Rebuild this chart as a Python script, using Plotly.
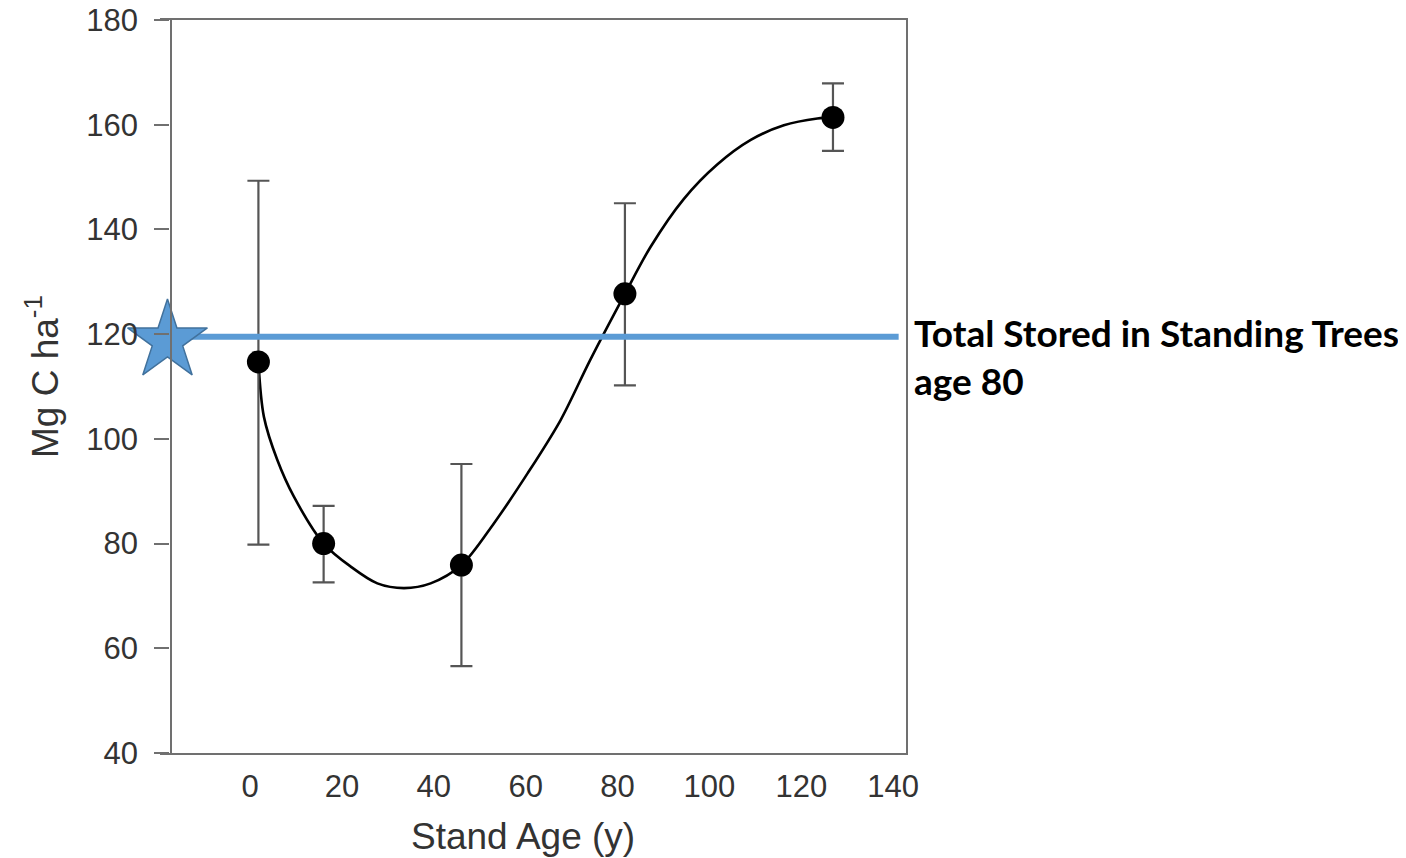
import plotly.graph_objects as go

# Measured points (stand age, Mg C/ha) with error bar ends
age = [1.8, 16.0, 46.0, 81.6, 126.9]
carbon = [114.7, 80.0, 75.9, 127.7, 161.4]
err_hi = [149.3, 87.2, 95.2, 145.0, 167.9]
err_lo = [79.8, 72.6, 56.6, 110.2, 155.0]

# Fitted curve
curve_x = [1.8, 3.0, 5.9, 9.5, 16.0, 21.9, 27.7, 33.5, 39.3, 46.0, 53.1, 60.4,
           67.6, 74.0, 81.6, 87.2, 94.4, 101.7, 109.0, 116.2, 123.5, 126.9]
curve_y = [114.7, 104.2, 96.0, 89.0, 80.0, 75.6, 72.4, 71.5, 72.4, 75.9, 83.9, 93.4,
           103.6, 115.0, 127.7, 136.7, 145.8, 152.4, 157.1, 159.9, 161.2, 161.4]

# Reference line (total stored in standing trees at age 80)
ref_value = 119.5
ref_x = [-18.0, 141.2]
star_x = [-18.0]
star_y = [118.7]

x_ticks = [0, 20, 40, 60, 80, 100, 120, 140]
y_ticks = [40, 60, 80, 100, 120, 140, 160, 180]

gray_text = "#333333"
axis_col = "#707070"

# page offset of the figure inside the browser (default body margin)
OFF = 8
# plot-area geometry in screen pixels
L, R, T, B = 160, 906, 20, 753
W, H = 1406, 858
x_max = 142.8
px_per_unit = (892.5 - 249.5) / 140.0
x_min = x_max - (R - L) / px_per_unit
yaxis_pos = (170.5 - L) / (R - L)


def px_to_paper_x(px):
    return (px - L) / (R - L)


def px_to_paper_y(py):
    return (B - py) / (B - T)


fig = go.Figure()

fig.add_trace(go.Scatter(
    x=curve_x, y=curve_y, mode="lines", line=dict(color="black", width=2.6, shape="spline", smoothing=0.9),
    hoverinfo="skip", showlegend=False))

fig.add_trace(go.Scatter(
    x=age, y=carbon, mode="markers",
    marker=dict(color="black", size=23),
    error_y=dict(type="data", symmetric=False,
                 array=[h - c for h, c in zip(err_hi, carbon)],
                 arrayminus=[c - l for c, l in zip(carbon, err_lo)],
                 color="#555555", thickness=2.2, width=11),
    showlegend=False))

fig.add_trace(go.Scatter(
    x=ref_x, y=[ref_value, ref_value], mode="lines",
    line=dict(color="#5b9bd5", width=6), showlegend=False))

fig.add_trace(go.Scatter(
    x=star_x, y=star_y, mode="markers",
    marker=dict(symbol="star", size=60, color="#5b9bd5", line=dict(color="#41719c", width=1.5)),
    cliponaxis=False, showlegend=False))

# empty trace on the right-side axis to draw the right frame line
fig.add_trace(go.Scatter(x=[], y=[], yaxis="y2", showlegend=False))

fig.update_layout(
    width=W, height=H,
    margin=dict(l=L - OFF, r=W - R + OFF, t=T - OFF, b=H - B + OFF),
    plot_bgcolor="white", paper_bgcolor="white",
    font=dict(family="Liberation Sans, Arial, sans-serif", color=gray_text),
    annotations=[
        dict(text="Stand Age (y)", xref="paper", yref="paper", x=px_to_paper_x(523), y=-0.083,
             xanchor="center", yanchor="top", showarrow=False,
             font=dict(size=37, color=gray_text)),
        dict(text="Mg C ha<sup>-1</sup>", xref="paper", x=px_to_paper_x(42), yref="paper",
             y=px_to_paper_y(377), xanchor="center", yanchor="middle", textangle=-90, showarrow=False,
             font=dict(size=37, color=gray_text)),
        dict(text="<b>Total Stored in Standing Trees<br>age 80</b>", xref="paper", yref="y",
             x=px_to_paper_x(912), y=115.7, xanchor="left", yanchor="middle", align="left",
             showarrow=False, font=dict(family="Lato, Carlito, sans-serif", size=37, color="black")),
    ],
    yaxis2=dict(overlaying="y", side="right", anchor="x", range=[40, 180], showline=True,
                linecolor=axis_col, linewidth=2.4, showticklabels=False, ticks="", showgrid=False,
                zeroline=False, automargin=False),
)

fig.update_xaxes(range=[x_min, x_max], tickvals=x_ticks, ticks="outside", ticklen=5,
                 tickcolor="rgba(0,0,0,0)", tickfont=dict(size=31, color=gray_text),
                 ticklabeloverflow="allow",
                 showline=True, linecolor=axis_col, linewidth=2.4, mirror=True,
                 showgrid=False, zeroline=False, automargin=False)
fig.layout.yaxis.update(range=[40, 180], tickvals=y_ticks, ticks="outside", ticklen=15, tickwidth=2.4,
                        tickcolor=axis_col, tickfont=dict(size=31, color=gray_text),
                        ticklabelstandoff=10, ticklabeloverflow="allow",
                        anchor="free", position=yaxis_pos,
                        showline=True, linecolor=axis_col, linewidth=2.4,
                        showgrid=False, zeroline=False, automargin=False)

fig.write_html("out.html")
